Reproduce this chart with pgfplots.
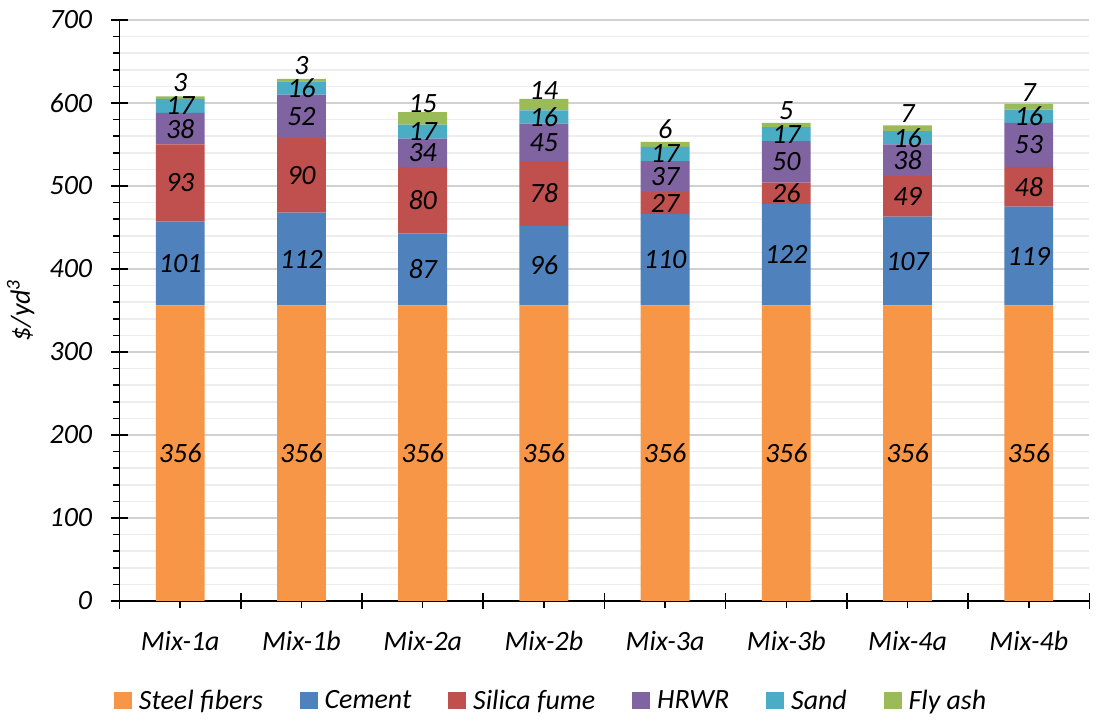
\documentclass[border=0pt]{standalone}
\usepackage{fontspec}
\setmainfont{Carlito}
\usepackage{pgfplots}
\usepackage{pgfplotstable}
\pgfplotsset{compat=1.18}

\definecolor{cSteel}{HTML}{F79646}
\definecolor{cCem}{HTML}{4F81BD}
\definecolor{cSil}{HTML}{C0504D}
\definecolor{cHR}{HTML}{8064A2}
\definecolor{cSand}{HTML}{4BACC6}
\definecolor{cFly}{HTML}{9BBB59}

\newcommand\lf{\fontsize{14}{16.8}\selectfont\itshape}

\pgfplotstableread{
x steel cement silica hrwr sand fly
0 356 101 93 38 17 3
1 356 112 90 52 16 3
2 356 87 80 34 17 15
3 356 96 78 45 16 14
4 356 110 27 37 17 6
5 356 122 26 50 17 5
6 356 107 49 38 16 7
7 356 119 48 53 16 7
}\data

\pgfplotsset{
  mid/.style={nodes near coords, point meta=\thisrow{#1},
    every node near coord/.append style={anchor=center, inner sep=0pt}},
  top/.style={nodes near coords, point meta=\thisrow{#1},
    every node near coord/.append style={anchor=south, inner sep=0pt, yshift=2.5pt}},
}

\begin{document}
\begin{tikzpicture}
\begin{axis}[
  width=486.5pt, height=291.5pt, scale only axis,
  xmin=-0.5, xmax=7.5, ymin=0, ymax=700,
  ybar stacked, bar width=24.5pt,
  axis x line*=bottom, axis y line*=left,
  axis line style={-, black, line width=0.9pt},
  every outer x axis line/.append style={-},
  every outer y axis line/.append style={-},
  ytick={0,100,...,700}, minor y tick num=4,
  ymajorgrids, yminorgrids,
  major grid style={color=black!18, line width=0.8pt},
  minor grid style={color=black!7, line width=0.8pt},
  xtick={-0.5,0.5,...,7.5}, xticklabels={},
  minor xtick={0,...,7},
  extra x ticks={0,...,7},
  extra x tick labels={Mix-1a,Mix-1b,Mix-2a,Mix-2b,Mix-3a,Mix-3b,Mix-4a,Mix-4b},
  extra x tick style={major tick length=0pt, grid=none},
  tick align=center, major tick length=8.5pt, minor tick length=3.5pt,
  tick style={black, line width=0.8pt},
  every minor y tick/.append style={xshift=-1.75pt},
  every minor x tick/.append style={yshift=-1.75pt},
  /pgf/number format/assume math mode=true,
  ticklabel style={font=\lf},
  xticklabel style={yshift=-11.5pt},
  yticklabel style={xshift=-6pt},
  ylabel={\$/yd\textsuperscript{3}},
  ylabel style={font=\lf, at={(axis description cs:-0.102,0.5)}, anchor=center},
  nodes near coords style={font=\lf, text=black},
  legend columns=6,
  legend style={at={(0.446,-0.172)}, anchor=center, draw=none, fill=none, font=\lf,
    /tikz/every even column/.append style={column sep=16.5pt},
    /tikz/every odd column/.append style={column sep=1.5pt}},
  legend image code/.code={\fill[#1] (0pt,-4.25pt) rectangle (9pt,4.25pt);},
]
\addplot[fill=cSteel, draw=none, mid=steel] table[x=x, y=steel] {\data};
\addplot[fill=cCem, draw=none, mid=cement] table[x=x, y=cement] {\data};
\addplot[fill=cSil, draw=none, mid=silica] table[x=x, y=silica] {\data};
\addplot[fill=cHR, draw=none, mid=hrwr] table[x=x, y=hrwr] {\data};
\addplot[fill=cSand, draw=none, mid=sand] table[x=x, y=sand] {\data};
\addplot[fill=cFly, draw=none, top=fly] table[x=x, y=fly] {\data};
\legend{Steel fibers, Cement, Silica fume, HRWR, Sand, Fly ash}
\end{axis}
\useasboundingbox (-60pt,-58pt) rectangle (488pt,301.5pt);
\end{tikzpicture}
\end{document}
